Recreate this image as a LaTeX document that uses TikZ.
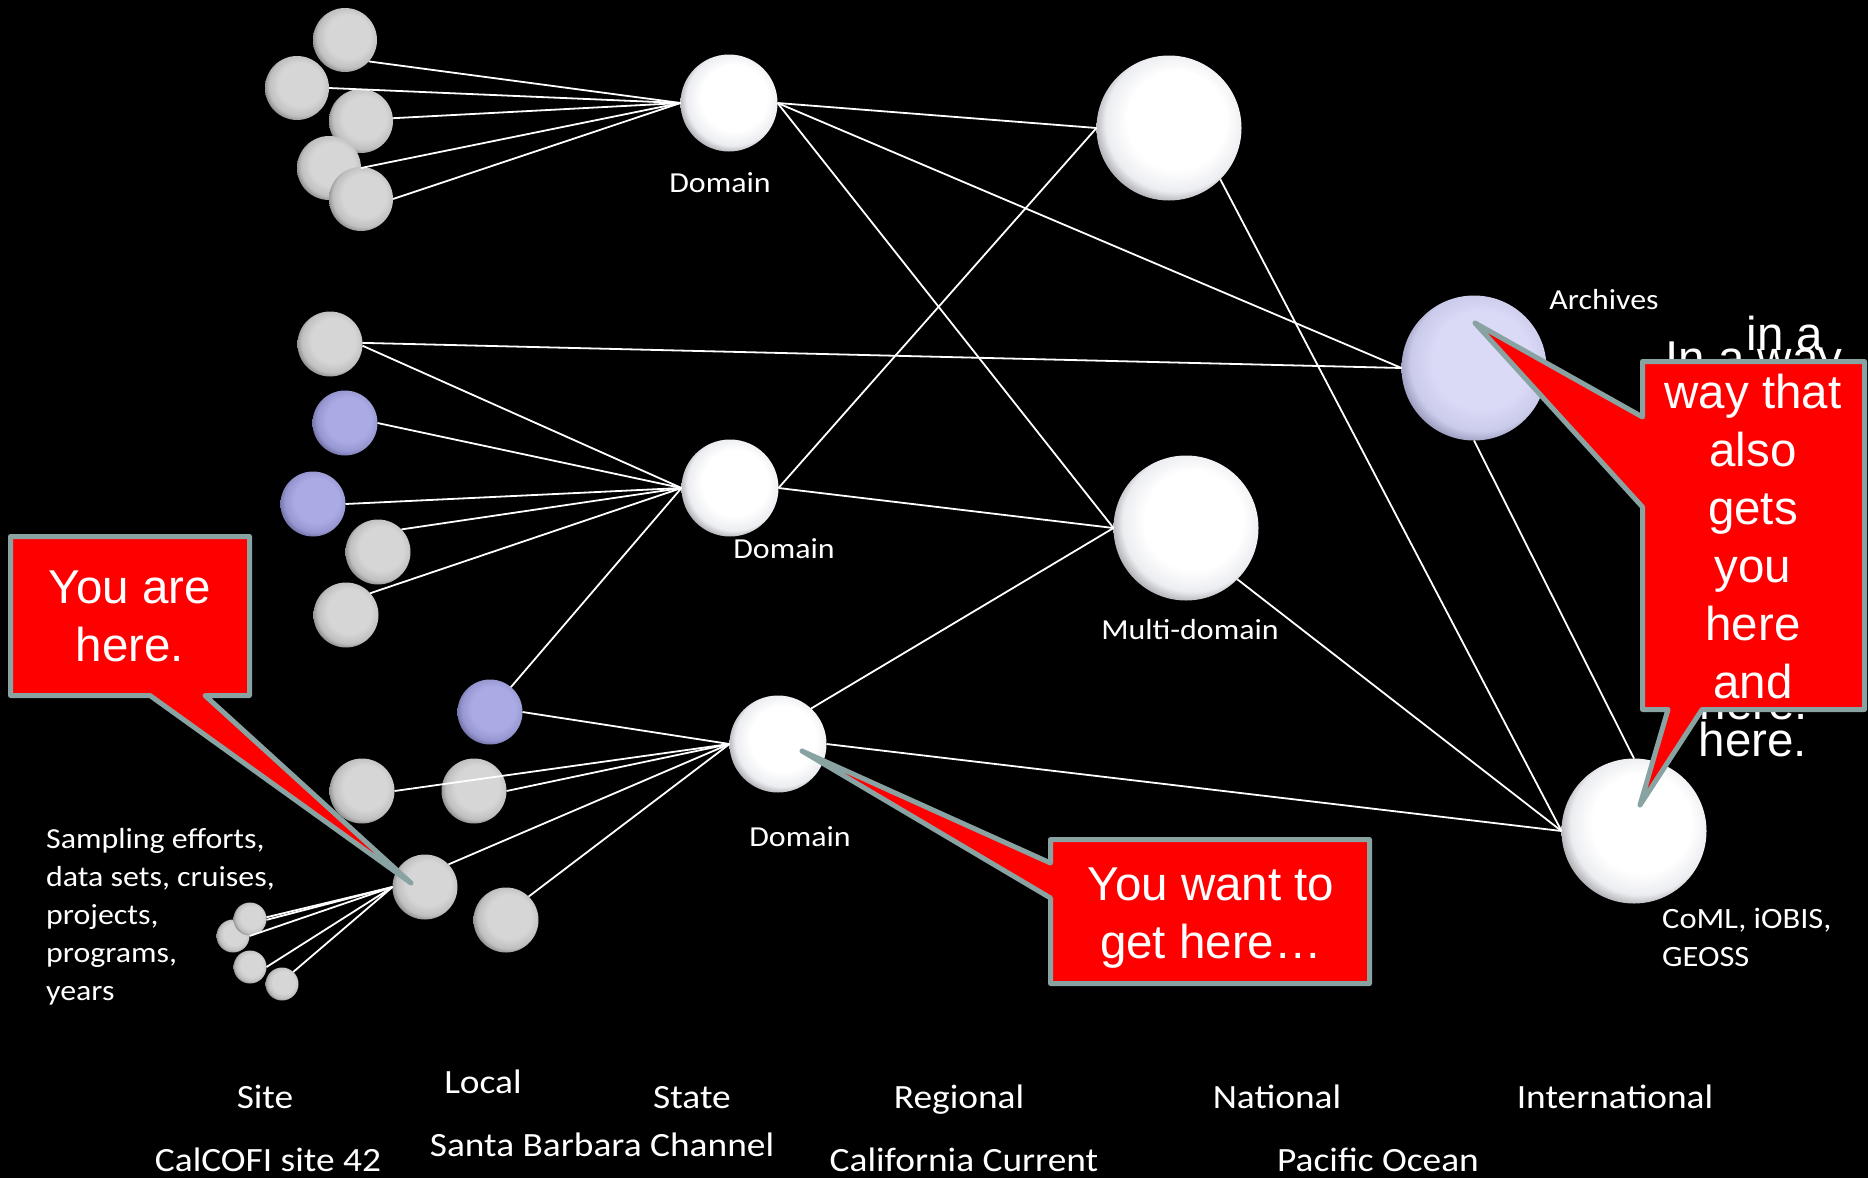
\documentclass[tikz,border=0pt]{standalone}
\usepackage{fontspec}
\newfontfamily\calf[FakeStretch=1.1]{Carlito}
\newfontfamily\arialf{Liberation Sans}
\usetikzlibrary{calc}

% sphere colours: centre, shoulder, rim
\definecolor{gA}{RGB}{214,214,214}
\definecolor{gB}{RGB}{192,192,192}
\definecolor{gC}{RGB}{110,110,110}
\definecolor{bA}{RGB}{170,170,228}
\definecolor{bB}{RGB}{150,150,208}
\definecolor{bC}{RGB}{90,90,140}
\definecolor{wA}{RGB}{255,255,255}
\definecolor{wB}{RGB}{236,237,241}
\definecolor{wC}{RGB}{135,135,140}
\definecolor{lA}{RGB}{218,218,246}
\definecolor{lB}{RGB}{202,202,234}
\definecolor{lC}{RGB}{125,125,160}
\definecolor{calloutred}{RGB}{255,0,0}
\definecolor{calloutrim}{RGB}{137,163,163}

\newcommand\spheredecl[2]{%
  \pgfdeclareradialshading{#1}{\pgfpoint{4bp}{4bp}}{%
    color(0bp)=(#2A); color(17bp)=(#2A); color(24bp)=(#2B);
    color(30bp)=(#2C); color(50bp)=(#2C)}}
\spheredecl{sphgray}{g}
\spheredecl{sphblue}{b}
\spheredecl{sphwhite}{w}
\spheredecl{sphlav}{l}

\tikzset{
  sph/.style={circle, inner sep=0pt, outer sep=0pt, minimum size=#1, draw=none, shade},
  gsph/.style={sph=#1, shading=sphgray},
  bsph/.style={sph=#1, shading=sphblue},
  wsph/.style={sph=#1, shading=sphwhite},
  lsph/.style={sph=#1, shading=sphlav},
  link/.style={draw=white, line width=1.8pt},
  lbl/.style={text=white, inner sep=0pt, font=\calf\fontsize{29}{38}\selectfont},
  scalelbl/.style={text=white, inner sep=0pt, font=\calf\fontsize{34}{40}\selectfont},
  callbox/.style={fill=calloutred, draw=calloutrim, line width=5pt, line join=round},
  calltext/.style={text=white, inner sep=0pt, font=\arialf\fontsize{47.5}{58}\selectfont},
}

\begin{document}
\begin{tikzpicture}[x=1pt,y=-1pt]
\useasboundingbox (0,0) rectangle (1868,1178);
\fill[black] (0,0) rectangle (1868,1178);

% ---- spheres ----
\node[gsph=64pt] (A) at (345,40) {};
\node[gsph=64pt] (B) at (297,88) {};
\node[gsph=64pt] (C) at (361,121) {};
\node[gsph=64pt] (D) at (329,168) {};
\node[gsph=64pt] (E) at (361,199) {};

\node[gsph=65pt] (F) at (330,344) {};
\node[bsph=65pt] (G) at (345,423) {};
\node[bsph=65pt] (H) at (313,504) {};
\node[gsph=65pt] (I) at (378,552) {};
\node[gsph=65pt] (J) at (346,615) {};

\node[bsph=65pt] (K) at (490,712) {};
\node[gsph=65pt] (L) at (362,791) {};
\node[gsph=65pt] (M) at (474,791) {};
\node[gsph=65pt] (N) at (425,887) {};
\node[gsph=65pt] (O) at (506,920) {};

\node[gsph=33pt] (Q) at (233,936) {};
\node[gsph=33pt] (P) at (250,919) {};
\node[gsph=33pt] (R) at (250,967) {};
\node[gsph=33pt] (S) at (282,984) {};

\node[wsph=97pt] (dom1) at (729,103) {};
\node[wsph=97pt] (dom2) at (730,488) {};
\node[wsph=97pt] (dom3) at (778,744) {};
\node[wsph=145pt] (reg) at (1169,128) {};
\node[wsph=145pt] (multi) at (1186,528) {};
\node[lsph=145pt] (arch) at (1474,368) {};
\node[wsph=145pt] (intl) at (1634,831) {};

% ---- connectors ----
\foreach \s/\a in {A/-42, B/0, C/5, D/0, E/0}
  \draw[link] (\s.\a) -- (dom1.west);
\foreach \s/\a in {F/-3, G/0, H/0, I/44, J/42, K/50}
  \draw[link] (\s.\a) -- (dom2.west);
\foreach \s/\a in {K/0, L/0, M/0, N/44, O/46}
  \draw[link] (\s.\a) -- (dom3.west);
\foreach \s/\a in {P/6, P/-3, Q/0, R/0, S/47}
  \draw[link] (\s.\a) -- (N.west);
\draw[link] (F.2) -- (arch.west);
\draw[link] (dom1.east) -- (reg.west);
\draw[link] (dom1.east) -- (arch.west);
\draw[link] (dom1.east) -- (multi.west);
\draw[link] (dom2.east) -- (reg.west);
\draw[link] (dom2.east) -- (multi.west);
\draw[link] (dom3.47) -- (multi.west);
\draw[link] (dom3.east) -- (intl.west);
\draw[link] (reg.-45) -- (intl.west);
\draw[link] (multi.-45) -- (intl.west);
\draw[link] (arch.south) -- (intl.north);

% ---- labels ----
\node[lbl, anchor=base] (ldom1) at (720,192) {Domain};
\node[lbl, anchor=base] (ldom2) at (784,558) {Domain};
\node[lbl, anchor=base] (ldom3) at (800,846) {Domain};
\node[lbl, anchor=base] (lmulti) at (1190,639) {Multi-domain};
\node[lbl, anchor=base] (larch) at (1604,309) {Archives};
\node[lbl, anchor=base west, font=\calf\fontsize{29.5}{38}\selectfont] (lintl) at (1662,928)
  {\begin{tabular}[t]{@{}l@{}}CoML, iOBIS,\\GEOSS\end{tabular}};
\node[lbl, anchor=base west] (lsite) at (46,848)
  {\begin{tabular}[t]{@{}l@{}}Sampling efforts,\\data sets, cruises,\\projects,\\programs,\\years\end{tabular}};

% ---- scale axis ----
\node[scalelbl, anchor=base] (s1) at (265,1108) {Site};
\node[scalelbl, anchor=base] (s2) at (483,1093) {Local};
\node[scalelbl, anchor=base] (s3) at (692,1108) {State};
\node[scalelbl, anchor=base] (s4) at (959,1108) {Regional};
\node[scalelbl, anchor=base] (s5) at (1277,1108) {National};
\node[scalelbl, anchor=base] (s6) at (1615,1108) {International};
\node[scalelbl, anchor=base] (e1) at (268,1171) {CalCOFI site 42};
\node[scalelbl, anchor=base] (e2) at (602,1156) {Santa Barbara Channel};
\node[scalelbl, anchor=base] (e3) at (964,1171) {California Current};
\node[scalelbl, anchor=base] (e4) at (1378,1171) {Pacific Ocean};

% ---- callouts ----
\coordinate (tipN) at ($(N)+(-14,-4)$);
\coordinate (tipD) at ($(dom3)+(24,7)$);
\coordinate (tipA) at ($(arch)+(1,-45)$);
\coordinate (tipI) at ($(intl)+(6,-26)$);

\filldraw[callbox] (10.5,536.5) -- (249.5,536.5) -- (249.5,695.5) -- (205,695.5)
  -- (tipN) -- (150,695.5) -- (10.5,695.5) -- cycle;
\node[calltext, anchor=base] (youare) at (130,603)
  {\begin{tabular}[t]{@{}c@{}}You are\\here.\end{tabular}};

\filldraw[callbox] (1050.5,839.5) -- (1369.5,839.5) -- (1369.5,983.5) -- (1050.5,983.5)
  -- (1050.5,898) -- (tipD) -- (1050.5,863) -- cycle;
\node[calltext, anchor=base] (youwant) at (1211,900)
  {\begin{tabular}[t]{@{}c@{}}You want to\\get here\char"2026\end{tabular}};

\node[calltext, anchor=base, font=\arialf\fontsize{47.5}{49.4}\selectfont] (waytextback) at (1754,374)
  {\begin{tabular}[t]{@{}c@{}}In a way\\that\\also\\gets\\you\\here\\and\\here.\end{tabular}};
\filldraw[callbox] (1642.5,361.5) -- (1864.5,361.5) -- (1864.5,709.5) -- (1702,709.5)
  -- (tipI) -- (1668,709.5) -- (1642.5,709.5) -- (1642.5,507) -- (tipA)
  -- (1642.5,417) -- cycle;
\node[calltext, anchor=base] (waytext) at (1753,350)
  {\begin{tabular}[t]{@{}c@{}}\hspace*{64pt}in a\\way that\\also\\gets\\you\\here\\and\\here.\end{tabular}};
\end{tikzpicture}
\end{document}
